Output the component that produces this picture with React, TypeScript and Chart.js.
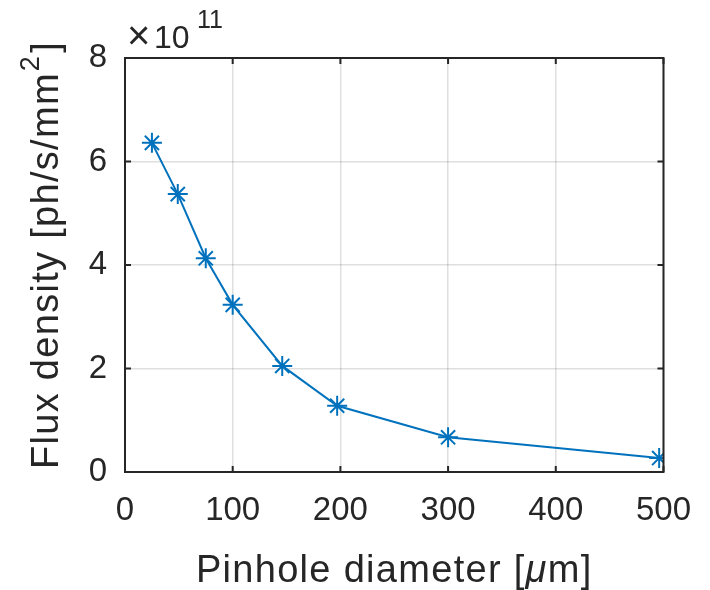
import React, { useEffect, useRef } from "react";
import { Chart, registerables } from "chart.js";

Chart.register(...registerables);

const diameters: number[] = [25, 49, 75, 100, 146, 197, 300, 496];
const fluxDensity: number[] = [6.36e11, 5.37e11, 4.13e11, 3.23e11, 2.05e11, 1.28e11, 0.67e11, 0.27e11];
const xTicks: number[] = [0, 100, 200, 300, 400, 500];
const yTicks: number[] = [0, 2e11, 4e11, 6e11, 8e11];

const xTitle = "Pinhole diameter [";
const xTitleMu = "\u03bc";
const xTitleEnd = "m]";
const yTitleMain = "Flux density [ph/s/mm";
const yTitleSup = "2";
const yTitleEnd = "]";
const expBase = "10";
const expPow = "11";

const FONT = "'Liberation Sans', Arial, Helvetica, sans-serif";
const AXIS_COLOR = "#262626";
const LINE_COLOR = "#0072BD";

const matlabPlugin = {
  id: "matlabDecor",
  afterDraw(chart: any) {
    const ctx = chart.ctx as CanvasRenderingContext2D;
    const { left, right, top, bottom } = chart.chartArea;
    const xs = chart.scales.x;
    const ys = chart.scales.y;
    ctx.save();
    ctx.strokeStyle = AXIS_COLOR;
    ctx.lineWidth = 2;
    ctx.beginPath();
    ctx.moveTo(left, top);
    ctx.lineTo(right, top);
    ctx.lineTo(right, bottom);
    ctx.lineTo(left, bottom);
    ctx.closePath();
    ctx.stroke();
    const tl = 6;
    ctx.beginPath();
    xTicks.forEach((v) => {
      const px = xs.getPixelForValue(v);
      ctx.moveTo(px, bottom);
      ctx.lineTo(px, bottom - tl);
      ctx.moveTo(px, top);
      ctx.lineTo(px, top + tl);
    });
    yTicks.forEach((v) => {
      const py = ys.getPixelForValue(v);
      ctx.moveTo(left, py);
      ctx.lineTo(left + tl, py);
      ctx.moveTo(right, py);
      ctx.lineTo(right - tl, py);
    });
    ctx.stroke();

    ctx.fillStyle = AXIS_COLOR;
    ctx.textBaseline = "alphabetic";
    ctx.textAlign = "left";
    (ctx as any).letterSpacing = "1.3px";
    const TS = 38;
    // x title
    const cx = (left + right) / 2;
    ctx.font = `${TS}px ${FONT}`;
    const w1 = ctx.measureText(xTitle).width;
    ctx.font = `italic ${TS}px ${FONT}`;
    const w2 = ctx.measureText(xTitleMu).width;
    ctx.font = `${TS}px ${FONT}`;
    const w3 = ctx.measureText(xTitleEnd).width;
    const sx = cx - (w1 + w2 + w3) / 2;
    const by = 582;
    ctx.fillText(xTitle, sx, by);
    ctx.font = `italic ${TS}px ${FONT}`;
    ctx.fillText(xTitleMu, sx + w1, by);
    ctx.font = `${TS}px ${FONT}`;
    ctx.fillText(xTitleEnd, sx + w1 + w2, by);

    // y title rotated
    const cy = (top + bottom) / 2 - 10;
    ctx.save();
    ctx.translate(58, cy);
    ctx.rotate(-Math.PI / 2);
    ctx.font = `${TS}px ${FONT}`;
    const m1 = ctx.measureText(yTitleMain).width;
    const m3 = ctx.measureText(yTitleEnd).width;
    ctx.font = `27px ${FONT}`;
    const m2 = ctx.measureText(yTitleSup).width;
    const ty = -(m1 + m2 + 3 + m3) / 2;
    ctx.font = `${TS}px ${FONT}`;
    ctx.fillText(yTitleMain, ty, 0);
    ctx.font = `27px ${FONT}`;
    ctx.fillText(yTitleSup, ty + m1 + 1, -19);
    ctx.font = `${TS}px ${FONT}`;
    ctx.fillText(yTitleEnd, ty + m1 + m2 + 3, 0);
    ctx.restore();

    // exponent
    (ctx as any).letterSpacing = "0px";
    ctx.font = `40px ${FONT}`;
    ctx.fillText("\u00d7", 127, 49);
    ctx.font = `32px ${FONT}`;
    ctx.fillText(expBase, 154, 48);
    ctx.font = `25px ${FONT}`;
    ctx.fillText(expPow, 197, 28);
    ctx.restore();
  },
};

export default function App() {
  const canvasRef = useRef<HTMLCanvasElement | null>(null);

  useEffect(() => {
    if (!canvasRef.current) return;
    const chart = new Chart(canvasRef.current, {
      type: "line",
      data: {
        datasets: [
          {
            data: diameters.map((d, i) => ({ x: d, y: fluxDensity[i] })),
            borderColor: LINE_COLOR,
            backgroundColor: LINE_COLOR,
            borderWidth: 2,
            pointStyle: "star",
            pointRadius: 10,
            pointBorderWidth: 2,
            pointBorderColor: LINE_COLOR,
            tension: 0,
            fill: false,
          },
        ],
      },
      options: {
        animation: false,
        responsive: false,
        maintainAspectRatio: false,
        layout: { padding: { top: 58, right: 45, left: 0, bottom: 0 } },
        plugins: {
          legend: { display: false },
          tooltip: { enabled: false },
        },
        scales: {
          x: {
            type: "linear",
            min: 0,
            max: 500,
            afterFit: (s: any) => {
              s.height = 118;
            },
            afterBuildTicks: (s: any) => {
              s.ticks = xTicks.map((v) => ({ value: v }));
            },
            ticks: {
              color: AXIS_COLOR,
              font: { family: FONT, size: 33 },
              padding: 19,
              maxRotation: 0,
              autoSkip: false,
            },
            grid: { color: "rgba(38,38,38,0.15)", lineWidth: 1.5, drawTicks: false },
            border: { display: false },
          },
          y: {
            type: "linear",
            min: 0,
            max: 8e11,
            afterFit: (s: any) => {
              s.width = 125;
            },
            afterBuildTicks: (s: any) => {
              s.ticks = yTicks.map((v) => ({ value: v }));
            },
            ticks: {
              color: AXIS_COLOR,
              font: { family: FONT, size: 33 },
              padding: 18,
              callback: (v: any) => String(Math.round(Number(v) / 1e11)),
            },
            grid: { color: "rgba(38,38,38,0.15)", lineWidth: 1.5, drawTicks: false },
            border: { display: false },
          },
        },
      },
      plugins: [matlabPlugin],
    });
    return () => chart.destroy();
  }, []);

  return (
    <div style={{ position: "absolute", left: 0, top: 0, width: 710, height: 590, background: "#fff" }}>
      <canvas ref={canvasRef} width={710} height={590} style={{ width: 710, height: 590 }} />
    </div>
  );
}
